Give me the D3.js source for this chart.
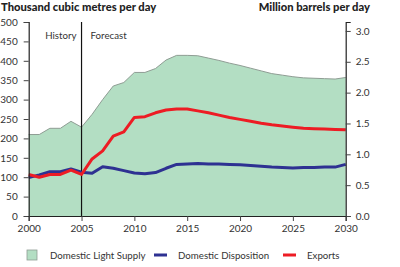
<!DOCTYPE html>
<meta charset="utf-8">
<style>
body { margin: 0; background: #fff; }
svg { display: block; font-family: Lato, "Open Sans", sans-serif; }
.tick text { font-size: 10px; fill: #333; }
.title { font-size: 11.2px; font-weight: 900; fill: #222; }
.legend text { font-size: 9.7px; fill: #333; }
.note { font-size: 9.7px; fill: #333; }
</style>
<body>
<div id="chart"></div>
<script src="https://d3js.org/d3.v7.min.js"></script>
<script>

var width = 400,
    height = 267;

var margin = {top: 22, right: 54.3, bottom: 51, left: 28.7};

// data, thousand m3/day
var years = d3.range(2000, 2031);
var supply = [210, 210, 226, 226, 244, 229, 262, 300, 335, 344, 370, 370, 380, 402, 414,
              414, 413, 407, 401, 394, 388, 381, 374, 367, 363, 359, 356, 355, 354, 353, 357];
var disposition = [99, 106, 114, 114, 121, 113, 110, 127, 123, 117, 111, 109, 112, 123, 133,
                   134, 135, 134, 134, 133, 132, 130, 128, 126, 125, 124, 125, 125, 126, 126, 133];
var exports = [107, 100, 107, 107, 118, 107, 147, 168, 206, 217, 254, 256, 266, 273, 276,
               276, 271, 266, 260, 254, 249, 244, 239, 235, 232, 229, 226, 225, 224, 223, 222];

var leftTicks = d3.range(0, 501, 50);
var rightTicks = [0, 0.5, 1.0, 1.5, 2.0, 2.5, 3.0];
var yearTicks = [2000, 2005, 2010, 2015, 2020, 2025, 2030];

var legendItems = [
  {name: "Domestic Light Supply", type: "box", color: "#b3dec3", x: 27},
  {name: "Domestic Disposition", type: "line", color: "#2e3192", x: 154},
  {name: "Exports", type: "line", color: "#ed1c24", x: 283}
];

var svg = d3.select("#chart").append("svg")
    .attr("width", width)
    .attr("height", height);

var x = d3.scaleLinear()
    .domain([2000, 2030])
    .range([margin.left, width - margin.right]);

var y = d3.scaleLinear()
    .domain([0, 500])
    .range([height - margin.bottom, margin.top]);

// 1 m3 = 6.29 barrels
var y2 = d3.scaleLinear()
    .domain([0, 500 * 6.29 / 1000])
    .range([height - margin.bottom, margin.top]);

var rows = years.map(function(yr, i) {
  return {year: yr, supply: supply[i], disp: disposition[i], exp: exports[i]};
});

// area
var area = d3.area()
    .x(function(d) { return x(d.year); })
    .y0(y(0))
    .y1(function(d) { return y(d.supply); });

svg.append("path")
    .datum(rows)
    .attr("d", area)
    .attr("fill", "#b3dec3");

svg.append("path")
    .datum(rows)
    .attr("d", d3.line().x(function(d) { return x(d.year); }).y(function(d) { return y(d.supply); }))
    .attr("fill", "none")
    .attr("stroke", "#8f9d94")
    .attr("stroke-width", 1);

// history / forecast divider
svg.append("line")
    .attr("x1", x(2005)).attr("x2", x(2005))
    .attr("y1", y(500)).attr("y2", y(0))
    .attr("stroke", "#111")
    .attr("stroke-width", 1.2);

svg.append("text")
    .attr("class", "note")
    .attr("x", x(2005) - 5)
    .attr("y", 39)
    .attr("text-anchor", "end")
    .text("History");

svg.append("text")
    .attr("class", "note")
    .attr("x", x(2005) + 9)
    .attr("y", 39)
    .text("Forecast");

// lines
function drawLine(key, color) {
  svg.append("path")
      .datum(rows)
      .attr("d", d3.line()
        .x(function(d) { return x(d.year); })
        .y(function(d) { return y(d[key]); }))
      .attr("fill", "none")
      .attr("stroke", color)
      .attr("stroke-width", 3)
      .attr("stroke-linejoin", "round");
}
drawLine("disp", "#2e3192");
drawLine("exp", "#ed1c24");

// axes
var gLeft = svg.append("g")
    .attr("transform", "translate(" + margin.left + ",0)")
    .call(d3.axisLeft(y).tickValues(leftTicks).tickSize(5).tickPadding(6));

var gRight = svg.append("g")
    .attr("transform", "translate(" + (width - margin.right) + ",0)")
    .call(d3.axisRight(y2).tickValues(rightTicks).tickFormat(d3.format(".1f")).tickSize(5).tickPadding(5));

var gBottom = svg.append("g")
    .attr("transform", "translate(0," + (height - margin.bottom) + ")")
    .call(d3.axisBottom(x).tickValues(yearTicks).tickFormat(d3.format("d")).tickSize(5).tickPadding(4));

[gLeft, gRight, gBottom].forEach(function(g) {
  g.attr("font-family", null).attr("font-size", null);
  g.select(".domain").attr("stroke", "#222").attr("stroke-width", 1.2);
  g.selectAll(".tick line").attr("stroke", "#444");
});

// titles
svg.append("text")
    .attr("class", "title")
    .attr("x", 1)
    .attr("y", 11)
    .text("Thousand cubic metres per day");

svg.append("text")
    .attr("class", "title")
    .attr("x", 370)
    .attr("y", 11)
    .attr("text-anchor", "end")
    .text("Million barrels per day");

// legend
var legend = svg.append("g").attr("class", "legend");
legendItems.forEach(function(item) {
  if (item.type == "box") {
    legend.append("rect")
        .attr("x", item.x).attr("y", 250)
        .attr("width", 10).attr("height", 10)
        .attr("fill", item.color)
        .attr("stroke", "#8f9d94")
        .attr("stroke-width", 0.8);
  } else {
    legend.append("line")
        .attr("x1", item.x).attr("x2", item.x + 13)
        .attr("y1", 255).attr("y2", 255)
        .attr("stroke", item.color)
        .attr("stroke-width", 3);
  }
  legend.append("text")
      .attr("x", item.x + (item.type == "box" ? 23 : 24))
      .attr("y", 258.5)
      .text(item.name);
});

</script>
</body>
